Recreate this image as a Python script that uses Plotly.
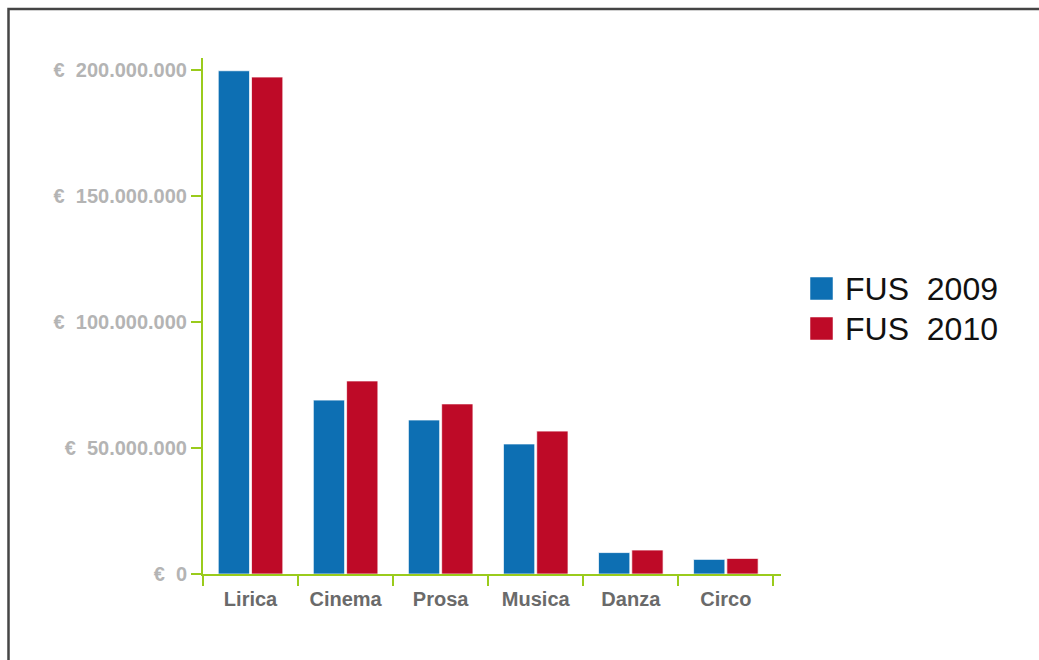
import plotly.graph_objects as go

categories = ["Lirica", "Cinema", "Prosa", "Musica", "Danza", "Circo"]
fus_2009 = [199.7e6, 69.0e6, 61.1e6, 51.6e6, 8.5e6, 5.8e6]
fus_2010 = [197.2e6, 76.6e6, 67.5e6, 56.7e6, 9.5e6, 6.2e6]
series_names = ["FUS\u00a0\u00a02009", "FUS\u00a0\u00a02010"]
tick_values = [0, 50e6, 100e6, 150e6, 200e6]
tick_labels = ["€\u00a0\u00a00", "€\u00a0\u00a050.000.000", "€\u00a0\u00a0100.000.000",
               "€\u00a0\u00a0150.000.000", "€\u00a0\u00a0200.000.000"]

BLUE = "#0d6fb3"
RED = "#be0a27"
GREEN = "#9acb1c"

fig = go.Figure()
for name, vals, col in [(series_names[0], fus_2009, BLUE), (series_names[1], fus_2010, RED)]:
    fig.add_trace(go.Bar(
        x=categories, y=vals, name=name, showlegend=False,
        marker=dict(color=col, line=dict(color="rgba(255,255,255,0.7)", width=1)),
    ))

W, H = 1039, 660
L, R, T, B = 203, 258, 58, 86
pw, ph = W - L - R, H - T - B
zero_px = H - B
ymax = 200e6 * ph / (zero_px - 70)

def px2x(px):
    return (px - L) / pw

def py2y(py):
    return (zero_px - py) / ph

shapes = [
    dict(type="rect", xref="paper", yref="paper",
         x0=px2x(8.5), x1=px2x(1200), y0=py2y(9), y1=py2y(800),
         line=dict(color="#454545", width=2.5), fillcolor="rgba(0,0,0,0)", layer="below"),
]
annotations = []
legend_rows = [(277, 300, BLUE, series_names[0]), (317, 340, RED, series_names[1])]
for top, bot, col, name in legend_rows:
    shapes.append(dict(type="rect", xref="paper", yref="paper",
                       x0=px2x(810), x1=px2x(833), y0=py2y(bot), y1=py2y(top),
                       fillcolor=col, line=dict(color="rgba(255,255,255,0.5)", width=1)))
    annotations.append(dict(xref="paper", yref="paper", x=px2x(843), y=py2y((top + bot) / 2),
                            text=name, showarrow=False, xanchor="left", yanchor="middle",
                            font=dict(family="Liberation Sans, Arial", size=32, color="#111111")))

fig.update_layout(
    width=W, height=H,
    margin=dict(l=L, r=R, t=T, b=B, pad=0),
    paper_bgcolor="white", plot_bgcolor="white",
    barmode="group", bargap=0.3, bargroupgap=0.06,
    shapes=shapes, annotations=annotations,
    font=dict(family="Liberation Sans, Arial"),
)
fig.update_xaxes(
    range=[-0.5, 5.58], tickson="boundaries",
    showline=True, linecolor=GREEN, linewidth=2,
    ticks="outside", ticklen=10, tickwidth=2, tickcolor=GREEN,
    showgrid=False, zeroline=False, ticklabelstandoff=6,
    tickfont=dict(family="Liberation Sans, Arial", size=20, color="#6a6a6a", weight="bold"),
)
fig.update_yaxes(
    range=[0, ymax], tickvals=tick_values, ticktext=tick_labels,
    showline=True, linecolor=GREEN, linewidth=2,
    ticks="outside", ticklen=10, tickwidth=2, tickcolor=GREEN,
    showgrid=False, zeroline=False,
    tickfont=dict(family="Liberation Sans, Arial", size=20, color="#b4b4b4", weight="bold"),
)

fig.write_html("out.html")
